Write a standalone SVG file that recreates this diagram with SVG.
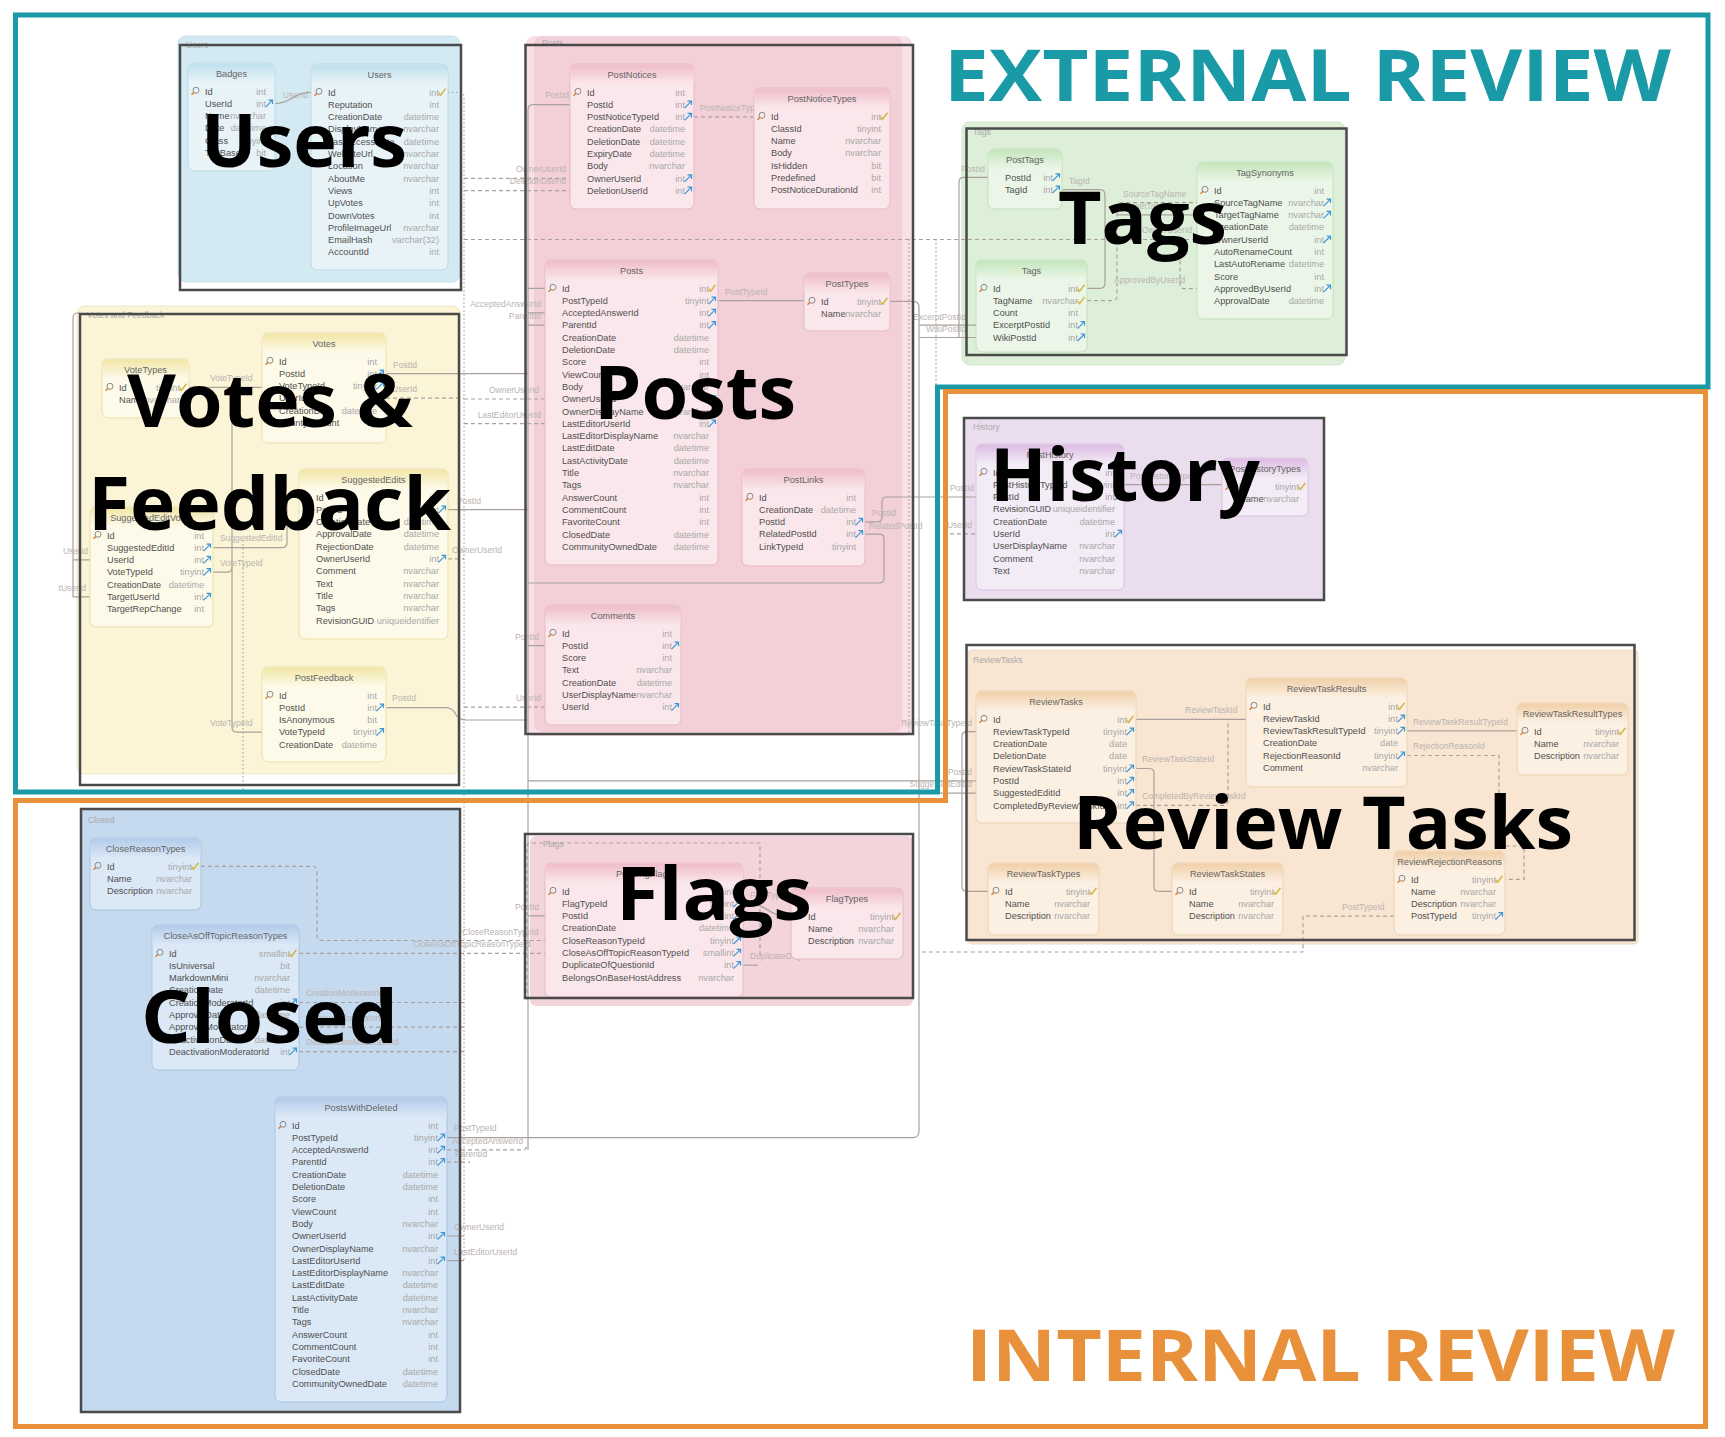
<svg xmlns="http://www.w3.org/2000/svg" width="1725" height="1437" viewBox="0 0 1725 1437">
<style>
.tn{font:9.2px "Liberation Sans",Arial,sans-serif;fill:#505050}
.tt{font:9.2px "Liberation Sans",Arial,sans-serif;fill:#a8a8a8;text-anchor:end}
.th{font:9.2px "Liberation Sans",Arial,sans-serif;fill:#666;text-anchor:middle}
.cl{font:8.5px "Liberation Sans",Arial,sans-serif;fill:#bab3b0}
.ce{font:8.5px "Liberation Sans",Arial,sans-serif;fill:#bab3b0;text-anchor:end}
.gl{font:8.5px "Liberation Sans",Arial,sans-serif;fill:#aaa}
.big{font-family:"Open Sans","Liberation Sans",sans-serif;font-weight:700;font-size:74px;fill:#000}
.rev{font-family:"Open Sans","Liberation Sans",sans-serif;font-weight:700;font-size:72px}
.c{fill:none;stroke:#aaa19c;stroke-width:1.2}
.d{stroke-dasharray:4 3}
.o{stroke-dasharray:1.5 2.5}
.box{fill:none;stroke:#4a4a4a;stroke-width:2.5}
.blu .tb{fill:#e8f3f8;stroke:#bcd9e5}.blu .thb{fill:url(#gBlu)}
.pnk .tb{fill:#fae7eb;stroke:#e6b9c4}.pnk .thb{fill:url(#gPnk)}
.grn .tb{fill:#ebf6e8;stroke:#c2e0ba}.grn .thb{fill:url(#gGrn)}
.yel .tb{fill:#fdfaea;stroke:#e9dfaa}.yel .thb{fill:url(#gYel)}
.pur .tb{fill:#f3ebf5;stroke:#d9c2df}.pur .thb{fill:url(#gPur)}
.org .tb{fill:#fcf0e3;stroke:#ead0af}.org .thb{fill:url(#gOrg)}
.cls .tb{fill:#dbe8f6;stroke:#aac4e3}.cls .thb{fill:url(#gCls)}
</style>
<defs>
<linearGradient id="gBlu" x1="0" y1="0" x2="0" y2="1"><stop offset="0" stop-color="#bfe0ec"/><stop offset="1" stop-color="#e8f3f8"/></linearGradient>
<linearGradient id="gPnk" x1="0" y1="0" x2="0" y2="1"><stop offset="0" stop-color="#efbcc8"/><stop offset="1" stop-color="#fae7eb"/></linearGradient>
<linearGradient id="gGrn" x1="0" y1="0" x2="0" y2="1"><stop offset="0" stop-color="#c4e6bb"/><stop offset="1" stop-color="#ebf6e8"/></linearGradient>
<linearGradient id="gYel" x1="0" y1="0" x2="0" y2="1"><stop offset="0" stop-color="#f1e6a6"/><stop offset="1" stop-color="#fdfaea"/></linearGradient>
<linearGradient id="gPur" x1="0" y1="0" x2="0" y2="1"><stop offset="0" stop-color="#dcbbe3"/><stop offset="1" stop-color="#f3ebf5"/></linearGradient>
<linearGradient id="gOrg" x1="0" y1="0" x2="0" y2="1"><stop offset="0" stop-color="#f0d0a8"/><stop offset="1" stop-color="#fcf0e3"/></linearGradient>
<linearGradient id="gCls" x1="0" y1="0" x2="0" y2="1"><stop offset="0" stop-color="#b2cbea"/><stop offset="1" stop-color="#dbe8f6"/></linearGradient>
<g id="key"><circle cx="1" cy="-1" r="3" fill="none" stroke="#8a8a8a" stroke-width="1"/><path d="M-1,1 L-3.5,3.5" stroke="#e07b2a" stroke-width="1.5"/></g>
<path id="chk" d="M-3.5,0.5 L-1.5,3 L3.5,-3.5" fill="none" stroke="#d8b43a" stroke-width="1.4"/>
<path id="fk" d="M-3.5,3.5 L3,-3 M-0.5,-3.5 H3.5 V0.5" fill="none" stroke="#3d96d6" stroke-width="1.2"/>
</defs>
<rect width="1725" height="1437" fill="#fff"/>

<!-- group backgrounds -->
<g id="group-fills">
<rect x="178" y="36" width="282" height="246" rx="8" fill="#d4eaf2" stroke="#c6e2eb"/>
<rect x="526" y="36" width="386" height="700" rx="8" fill="#f8e0e6"/>
<rect x="534" y="36" width="368" height="696" rx="8" fill="#f3d0d8"/>
<rect x="962" y="122" width="383" height="243" rx="8" fill="#ddefd9" stroke="#d0e7cb"/>
<rect x="77" y="306" width="383" height="468" rx="8" fill="#fbf4d7" stroke="#efe7c4"/>
<rect x="964" y="418" width="360" height="182" fill="#e9ddee"/>
<rect x="968" y="650" width="670" height="294" rx="4" fill="#f9e6d2" stroke="#eedac4"/>
<rect x="81" y="809" width="379" height="603" fill="#c5d9ef"/>
<rect x="530" y="836" width="383" height="170" rx="6" fill="#f4d4db"/>
<text class="gl" x="186" y="48">Users</text>
<text class="gl" x="542" y="46">Posts</text>
<text class="gl" x="973" y="135">Tags</text>
<text class="gl" x="87" y="318">Votes and Feedback</text>
<text class="gl" x="973" y="430">History</text>
<text class="gl" x="973" y="663">ReviewTasks</text>
<text class="gl" x="88" y="823">Closed</text>
<text class="gl" x="543" y="847">Flags</text>
</g>

<!-- connectors -->
<g id="connectors">
<path class="c" d="M275,103.6 C292,103.6 293,92.3 311,92.3"/>
<path class="c o" d="M448,92.3 H459 Q464,92.3 464,97 V1261"/>
<path class="c o" d="M909,239 V735"/>
<path class="c o" d="M936,239 V790"/>
<path class="c o" d="M243,540 V792"/>
<path class="c d" d="M464,178.4 H570 M464,190.7 H570"/>
<path class="c d" d="M464,239.5 H1197"/>
<path class="c d" d="M464,399 H545 M464,423.6 H545 M464,707.1 H545"/>
<path class="c" d="M570,104.6 H533 Q528,104.6 528,110 V1150"/>
<path class="c" d="M528,288.3 H545 M528,312.9 H545 M528,325.2 H545 M528,645.6 H545 M528,915.9 H545"/>
<path class="c" d="M386,373.6 H528 M448,509.6 H528"/>
<path class="c" d="M386,707.6 H445 Q452,707.6 455,713 Q458,720 466,720 H528"/>
<path class="c d" d="M694,116.9 H754"/>
<path class="c" d="M718,300.6 H804"/>
<path class="c" d="M890,301.3 H913 Q919,301.3 919,307 V1131 Q919,1137.6 913,1137.6 H447"/>
<path class="c" d="M865,534.2 H879 Q884,534.2 884,539 V578 Q884,583 879,583 H528"/>
<path class="c" d="M865,521.9 H877 Q882,521.9 882,517 V502 Q882,497 887,497 H976"/>
<path class="c" d="M919,325.2 H976 M919,337.5 H976"/>
<path class="c" d="M988,177.3 H964 Q959,177.3 959,182 V338"/>
<path class="c" d="M1062,189.6 H1100 Q1105,189.6 1105,195 V283 Q1105,288.3 1100,288.3 H1087"/>
<path class="c d" d="M1087,300.6 H1112 Q1117,300.6 1117,296 V207 Q1117,202.6 1122,202.6 H1197"/>
<path class="c" d="M1117,214.9 H1197"/>
<path class="c d" d="M1180,239.5 V284 Q1180,288.7 1185,288.7 H1197"/>
<path class="c" d="M1124,484.6 H1222"/>
<path class="c d" d="M936,533.8 H976"/>
<path class="c" d="M976,731.6 H967 Q962,731.6 962,736 V887 Q962,891.3 967,891.3 H988"/>
<path class="c" d="M528,780.8 H976"/>
<path class="c" d="M464,793.1 H976"/>
<path class="c" d="M1136,719.3 H1246"/>
<path class="c" d="M1136,768.5 H1149 Q1154,768.5 1154,773 V887 Q1154,891.3 1159,891.3 H1172"/>
<path class="c d" d="M1136,805.4 H1223 Q1228,805.4 1228,800 V719.3"/>
<path class="c" d="M1407,730.9 H1517"/>
<path class="c d" d="M1407,755.5 H1499 V846 H1524 V879.3 H1505"/>
<path class="c d" d="M1394,916.2 H1303 V952 H919"/>
<path class="c" d="M189,387.3 H262"/>
<path class="c" d="M232,387.3 V727 Q232,732.2 237,732.2 H262"/>
<path class="c" d="M213,572.2 H227 Q232,572.2 232,567"/>
<path class="c" d="M213,547.6 H282 Q287,547.6 287,542 V502 Q287,497.3 292,497.3 H299"/>
<path class="c d" d="M386,398.2 H464 M448,558.8 H464"/>
<path class="c" d="M80,313 H78 Q73,313 73,318 V597 M73,559.9 H90 M73,596.8 H90"/>
<path class="c d" d="M201,866.3 H312 Q317,866.3 317,871 V936 Q317,940.5 322,940.5 H545"/>
<path class="c d" d="M299,953.3 H545"/>
<path class="c d" d="M299,1002.5 H464 M299,1027.1 H464 M299,1051.7 H464"/>
<path class="c d" d="M447,1149.9 H522 Q527,1149.9 527,1145 M447,1162.2 H470"/>
<path class="c" d="M447,1236 H464 M447,1260.6 H464"/>
<path class="c" d="M743,903.6 C772,903.6 764,916.3 791,916.3"/>
<path class="c" d="M743,965.1 H758"/>
<path class="c d" d="M527,1000 V846 Q527,843 530,843 H760 V958"/>
<text class="cl" x="283" y="98">UserId</text>
<text class="ce" x="566" y="172">OwnerUserId</text>
<text class="ce" x="566" y="184">DeletionUserId</text>
<text class="ce" x="1192" y="233">OwnerUserId</text>
<text class="ce" x="541" y="307">AcceptedAnswerId</text>
<text class="ce" x="541" y="319">ParentId</text>
<text class="ce" x="539" y="393">OwnerUserId</text>
<text class="ce" x="541" y="418">LastEditorUserId</text>
<text class="ce" x="569" y="98">PostId</text>
<text class="ce" x="539" y="640">PostId</text>
<text class="ce" x="541" y="701">UserId</text>
<text class="ce" x="539" y="910">PostId</text>
<text class="cl" x="700" y="111">PostNoticeTypeId</text>
<text class="cl" x="725" y="295">PostTypeId</text>
<text class="cl" x="872" y="516">PostId</text>
<text class="cl" x="869" y="529">RelatedPostId</text>
<text class="ce" x="974" y="491">PostId</text>
<text class="ce" x="972" y="528">UserId</text>
<text class="cl" x="913" y="320">ExcerptPostId</text>
<text class="cl" x="926" y="332">WikiPostId</text>
<text class="ce" x="985" y="172">PostId</text>
<text class="cl" x="1069" y="184">TagId</text>
<text class="cl" x="1123" y="197">SourceTagName</text>
<text class="cl" x="1123" y="209">TargetTagName</text>
<text class="cl" x="1114" y="283">ApprovedByUserId</text>
<text class="cl" x="1130" y="479">PostHistoryTypeId</text>
<text class="ce" x="972" y="726">ReviewTaskTypeId</text>
<text class="ce" x="972" y="775">PostId</text>
<text class="ce" x="972" y="787">SuggestedEditId</text>
<text class="cl" x="1185" y="713">ReviewTaskId</text>
<text class="cl" x="1142" y="762">ReviewTaskStateId</text>
<text class="cl" x="1142" y="799">CompletedByReviewTaskId</text>
<text class="cl" x="1413" y="725">ReviewTaskResultTypeId</text>
<text class="cl" x="1413" y="749">RejectionReasonId</text>
<text class="cl" x="1342" y="910">PostTypeId</text>
<text class="cl" x="210" y="381">VoteTypeId</text>
<text class="cl" x="220" y="566">VoteTypeId</text>
<text class="cl" x="210" y="726">VoteTypeId</text>
<text class="cl" x="220" y="541">SuggestedEditId</text>
<text class="cl" x="393" y="368">PostId</text>
<text class="cl" x="392" y="392">UserId</text>
<text class="cl" x="457" y="504">PostId</text>
<text class="cl" x="452" y="553">OwnerUserId</text>
<text class="cl" x="392" y="701">PostId</text>
<text class="ce" x="88" y="554">UserId</text>
<text class="ce" x="86" y="591">tUserId</text>
<text class="cl" x="462" y="935">CloseReasonTypeId</text>
<text class="cl" x="413" y="947">CloseAsOffTopicReasonTypeId</text>
<text class="cl" x="306" y="996">CreationModeratorId</text>
<text class="cl" x="306" y="1021">ApprovalModeratorId</text>
<text class="cl" x="306" y="1045">DeactivationModeratorId</text>
<text class="cl" x="454" y="1131">PostTypeId</text>
<text class="cl" x="452" y="1144">AcceptedAnswerId</text>
<text class="cl" x="455" y="1157">ParentId</text>
<text class="cl" x="454" y="1230">OwnerUserId</text>
<text class="cl" x="454" y="1255">LastEditorUserId</text>
<text class="cl" x="750" y="898">FlagTypeId</text>
<text class="cl" x="750" y="959">DuplicateOfQuestionId</text>
</g>

<!-- tables -->
<g id="t-badges" class="blu">
<rect class="tb" x="188" y="63" width="87" height="108" rx="6"/>
<path class="thb" d="M188.5,83V69q0-5.5 5.5-5.5h75q5.5,0 5.5,5.5v14z"/>
<text class="th" x="231.5" y="76.5">Badges</text>
<text class="tn" y="94.5"><tspan x="205">Id</tspan><tspan x="205" dy="12.3">UserId</tspan><tspan x="205" dy="12.3">Name</tspan><tspan x="205" dy="12.3">Date</tspan><tspan x="205" dy="12.3">Class</tspan><tspan x="205" dy="12.3">TagBased</tspan></text>
<text class="tt" y="94.5"><tspan x="266">int</tspan><tspan x="266" dy="12.3">int</tspan><tspan x="266" dy="12.3">nvarchar</tspan><tspan x="266" dy="12.3">datetime</tspan><tspan x="266" dy="12.3">tinyint</tspan><tspan x="266" dy="12.3">bit</tspan></text>
<use href="#key" x="195" y="91.3"/><use href="#fk" x="269" y="103.6"/>
</g>
<g id="t-users" class="blu">
<rect class="tb" x="311" y="64" width="137" height="206" rx="6"/>
<path class="thb" d="M311.5,84V70q0-5.5 5.5-5.5h125q5.5,0 5.5,5.5v14z"/>
<text class="th" x="379.5" y="77.5">Users</text>
<text class="tn" y="95.5"><tspan x="328">Id</tspan><tspan x="328" dy="12.3">Reputation</tspan><tspan x="328" dy="12.3">CreationDate</tspan><tspan x="328" dy="12.3">DisplayName</tspan><tspan x="328" dy="12.3">LastAccessDate</tspan><tspan x="328" dy="12.3">WebsiteUrl</tspan><tspan x="328" dy="12.3">Location</tspan><tspan x="328" dy="12.3">AboutMe</tspan><tspan x="328" dy="12.3">Views</tspan><tspan x="328" dy="12.3">UpVotes</tspan><tspan x="328" dy="12.3">DownVotes</tspan><tspan x="328" dy="12.3">ProfileImageUrl</tspan><tspan x="328" dy="12.3">EmailHash</tspan><tspan x="328" dy="12.3">AccountId</tspan></text>
<text class="tt" y="95.5"><tspan x="439">int</tspan><tspan x="439" dy="12.3">int</tspan><tspan x="439" dy="12.3">datetime</tspan><tspan x="439" dy="12.3">nvarchar</tspan><tspan x="439" dy="12.3">datetime</tspan><tspan x="439" dy="12.3">nvarchar</tspan><tspan x="439" dy="12.3">nvarchar</tspan><tspan x="439" dy="12.3">nvarchar</tspan><tspan x="439" dy="12.3">int</tspan><tspan x="439" dy="12.3">int</tspan><tspan x="439" dy="12.3">int</tspan><tspan x="439" dy="12.3">nvarchar</tspan><tspan x="439" dy="12.3">varchar(32)</tspan><tspan x="439" dy="12.3">int</tspan></text>
<use href="#key" x="318" y="92.3"/><use href="#chk" x="442" y="92.3"/>
</g>
<g id="t-postnotices" class="pnk">
<rect class="tb" x="570" y="64" width="124" height="145" rx="6"/>
<path class="thb" d="M570.5,84V70q0-5.5 5.5-5.5h112q5.5,0 5.5,5.5v14z"/>
<text class="th" x="632" y="77.5">PostNotices</text>
<text class="tn" y="95.5"><tspan x="587">Id</tspan><tspan x="587" dy="12.3">PostId</tspan><tspan x="587" dy="12.3">PostNoticeTypeId</tspan><tspan x="587" dy="12.3">CreationDate</tspan><tspan x="587" dy="12.3">DeletionDate</tspan><tspan x="587" dy="12.3">ExpiryDate</tspan><tspan x="587" dy="12.3">Body</tspan><tspan x="587" dy="12.3">OwnerUserId</tspan><tspan x="587" dy="12.3">DeletionUserId</tspan></text>
<text class="tt" y="95.5"><tspan x="685">int</tspan><tspan x="685" dy="12.3">int</tspan><tspan x="685" dy="12.3">int</tspan><tspan x="685" dy="12.3">datetime</tspan><tspan x="685" dy="12.3">datetime</tspan><tspan x="685" dy="12.3">datetime</tspan><tspan x="685" dy="12.3">nvarchar</tspan><tspan x="685" dy="12.3">int</tspan><tspan x="685" dy="12.3">int</tspan></text>
<use href="#key" x="577" y="92.3"/><use href="#fk" x="688" y="104.6"/><use href="#fk" x="688" y="116.9"/><use href="#fk" x="688" y="178.4"/><use href="#fk" x="688" y="190.7"/>
</g>
<g id="t-postnoticetypes" class="pnk">
<rect class="tb" x="754" y="88" width="136" height="121" rx="6"/>
<path class="thb" d="M754.5,108V94q0-5.5 5.5-5.5h124q5.5,0 5.5,5.5v14z"/>
<text class="th" x="822" y="101.5">PostNoticeTypes</text>
<text class="tn" y="119.5"><tspan x="771">Id</tspan><tspan x="771" dy="12.3">ClassId</tspan><tspan x="771" dy="12.3">Name</tspan><tspan x="771" dy="12.3">Body</tspan><tspan x="771" dy="12.3">IsHidden</tspan><tspan x="771" dy="12.3">Predefined</tspan><tspan x="771" dy="12.3">PostNoticeDurationId</tspan></text>
<text class="tt" y="119.5"><tspan x="881">int</tspan><tspan x="881" dy="12.3">tinyint</tspan><tspan x="881" dy="12.3">nvarchar</tspan><tspan x="881" dy="12.3">nvarchar</tspan><tspan x="881" dy="12.3">bit</tspan><tspan x="881" dy="12.3">bit</tspan><tspan x="881" dy="12.3">int</tspan></text>
<use href="#key" x="761" y="116.3"/><use href="#chk" x="884" y="116.3"/>
</g>
<g id="t-posts" class="pnk">
<rect class="tb" x="545" y="260" width="173" height="305" rx="6"/>
<path class="thb" d="M545.5,280V266q0-5.5 5.5-5.5h161q5.5,0 5.5,5.5v14z"/>
<text class="th" x="631.5" y="273.5">Posts</text>
<text class="tn" y="291.5"><tspan x="562">Id</tspan><tspan x="562" dy="12.3">PostTypeId</tspan><tspan x="562" dy="12.3">AcceptedAnswerId</tspan><tspan x="562" dy="12.3">ParentId</tspan><tspan x="562" dy="12.3">CreationDate</tspan><tspan x="562" dy="12.3">DeletionDate</tspan><tspan x="562" dy="12.3">Score</tspan><tspan x="562" dy="12.3">ViewCount</tspan><tspan x="562" dy="12.3">Body</tspan><tspan x="562" dy="12.3">OwnerUserId</tspan><tspan x="562" dy="12.3">OwnerDisplayName</tspan><tspan x="562" dy="12.3">LastEditorUserId</tspan><tspan x="562" dy="12.3">LastEditorDisplayName</tspan><tspan x="562" dy="12.3">LastEditDate</tspan><tspan x="562" dy="12.3">LastActivityDate</tspan><tspan x="562" dy="12.3">Title</tspan><tspan x="562" dy="12.3">Tags</tspan><tspan x="562" dy="12.3">AnswerCount</tspan><tspan x="562" dy="12.3">CommentCount</tspan><tspan x="562" dy="12.3">FavoriteCount</tspan><tspan x="562" dy="12.3">ClosedDate</tspan><tspan x="562" dy="12.3">CommunityOwnedDate</tspan></text>
<text class="tt" y="291.5"><tspan x="709">int</tspan><tspan x="709" dy="12.3">tinyint</tspan><tspan x="709" dy="12.3">int</tspan><tspan x="709" dy="12.3">int</tspan><tspan x="709" dy="12.3">datetime</tspan><tspan x="709" dy="12.3">datetime</tspan><tspan x="709" dy="12.3">int</tspan><tspan x="709" dy="12.3">int</tspan><tspan x="709" dy="12.3">nvarchar</tspan><tspan x="709" dy="12.3">int</tspan><tspan x="709" dy="12.3">nvarchar</tspan><tspan x="709" dy="12.3">int</tspan><tspan x="709" dy="12.3">nvarchar</tspan><tspan x="709" dy="12.3">datetime</tspan><tspan x="709" dy="12.3">datetime</tspan><tspan x="709" dy="12.3">nvarchar</tspan><tspan x="709" dy="12.3">nvarchar</tspan><tspan x="709" dy="12.3">int</tspan><tspan x="709" dy="12.3">int</tspan><tspan x="709" dy="12.3">int</tspan><tspan x="709" dy="12.3">datetime</tspan><tspan x="709" dy="12.3">datetime</tspan></text>
<use href="#key" x="552" y="288.3"/><use href="#chk" x="712" y="288.3"/><use href="#fk" x="712" y="300.6"/><use href="#fk" x="712" y="312.9"/><use href="#fk" x="712" y="325.2"/><use href="#fk" x="712" y="399"/><use href="#fk" x="712" y="423.6"/>
</g>
<g id="t-posttypes" class="pnk">
<rect class="tb" x="804" y="273" width="86" height="58" rx="6"/>
<path class="thb" d="M804.5,293V279q0-5.5 5.5-5.5h74q5.5,0 5.5,5.5v14z"/>
<text class="th" x="847" y="286.5">PostTypes</text>
<text class="tn" y="304.5"><tspan x="821">Id</tspan><tspan x="821" dy="12.3">Name</tspan></text>
<text class="tt" y="304.5"><tspan x="881">tinyint</tspan><tspan x="881" dy="12.3">nvarchar</tspan></text>
<use href="#key" x="811" y="301.3"/><use href="#chk" x="884" y="301.3"/>
</g>
<g id="t-postlinks" class="pnk">
<rect class="tb" x="742" y="469" width="123" height="97" rx="6"/>
<path class="thb" d="M742.5,489V475q0-5.5 5.5-5.5h111q5.5,0 5.5,5.5v14z"/>
<text class="th" x="803.5" y="482.5">PostLinks</text>
<text class="tn" y="500.5"><tspan x="759">Id</tspan><tspan x="759" dy="12.3">CreationDate</tspan><tspan x="759" dy="12.3">PostId</tspan><tspan x="759" dy="12.3">RelatedPostId</tspan><tspan x="759" dy="12.3">LinkTypeId</tspan></text>
<text class="tt" y="500.5"><tspan x="856">int</tspan><tspan x="856" dy="12.3">datetime</tspan><tspan x="856" dy="12.3">int</tspan><tspan x="856" dy="12.3">int</tspan><tspan x="856" dy="12.3">tinyint</tspan></text>
<use href="#key" x="749" y="497.3"/><use href="#fk" x="859" y="521.9"/><use href="#fk" x="859" y="534.2"/>
</g>
<g id="t-comments" class="pnk">
<rect class="tb" x="545" y="605" width="136" height="120" rx="6"/>
<path class="thb" d="M545.5,625V611q0-5.5 5.5-5.5h124q5.5,0 5.5,5.5v14z"/>
<text class="th" x="613" y="618.5">Comments</text>
<text class="tn" y="636.5"><tspan x="562">Id</tspan><tspan x="562" dy="12.3">PostId</tspan><tspan x="562" dy="12.3">Score</tspan><tspan x="562" dy="12.3">Text</tspan><tspan x="562" dy="12.3">CreationDate</tspan><tspan x="562" dy="12.3">UserDisplayName</tspan><tspan x="562" dy="12.3">UserId</tspan></text>
<text class="tt" y="636.5"><tspan x="672">int</tspan><tspan x="672" dy="12.3">int</tspan><tspan x="672" dy="12.3">int</tspan><tspan x="672" dy="12.3">nvarchar</tspan><tspan x="672" dy="12.3">datetime</tspan><tspan x="672" dy="12.3">nvarchar</tspan><tspan x="672" dy="12.3">int</tspan></text>
<use href="#key" x="552" y="633.3"/><use href="#fk" x="675" y="645.6"/><use href="#fk" x="675" y="707.1"/>
</g>
<g id="t-posttags" class="grn">
<rect class="tb" x="988" y="149" width="74" height="60" rx="6"/>
<path class="thb" d="M988.5,169V155q0-5.5 5.5-5.5h62q5.5,0 5.5,5.5v14z"/>
<text class="th" x="1025" y="162.5">PostTags</text>
<text class="tn" y="180.5"><tspan x="1005">PostId</tspan><tspan x="1005" dy="12.3">TagId</tspan></text>
<text class="tt" y="180.5"><tspan x="1053">int</tspan><tspan x="1053" dy="12.3">int</tspan></text>
<use href="#fk" x="1056" y="177.3"/><use href="#fk" x="1056" y="189.6"/>
</g>
<g id="t-tagsynonyms" class="grn">
<rect class="tb" x="1197" y="162" width="136" height="157" rx="6"/>
<path class="thb" d="M1197.5,182V168q0-5.5 5.5-5.5h124q5.5,0 5.5,5.5v14z"/>
<text class="th" x="1265" y="175.5">TagSynonyms</text>
<text class="tn" y="193.5"><tspan x="1214">Id</tspan><tspan x="1214" dy="12.3">SourceTagName</tspan><tspan x="1214" dy="12.3">TargetTagName</tspan><tspan x="1214" dy="12.3">CreationDate</tspan><tspan x="1214" dy="12.3">OwnerUserId</tspan><tspan x="1214" dy="12.3">AutoRenameCount</tspan><tspan x="1214" dy="12.3">LastAutoRename</tspan><tspan x="1214" dy="12.3">Score</tspan><tspan x="1214" dy="12.3">ApprovedByUserId</tspan><tspan x="1214" dy="12.3">ApprovalDate</tspan></text>
<text class="tt" y="193.5"><tspan x="1324">int</tspan><tspan x="1324" dy="12.3">nvarchar</tspan><tspan x="1324" dy="12.3">nvarchar</tspan><tspan x="1324" dy="12.3">datetime</tspan><tspan x="1324" dy="12.3">int</tspan><tspan x="1324" dy="12.3">int</tspan><tspan x="1324" dy="12.3">datetime</tspan><tspan x="1324" dy="12.3">int</tspan><tspan x="1324" dy="12.3">int</tspan><tspan x="1324" dy="12.3">datetime</tspan></text>
<use href="#key" x="1204" y="190.3"/><use href="#fk" x="1327" y="202.6"/><use href="#fk" x="1327" y="214.9"/><use href="#fk" x="1327" y="239.5"/><use href="#fk" x="1327" y="288.7"/>
</g>
<g id="t-tags" class="grn">
<rect class="tb" x="976" y="260" width="111" height="92" rx="6"/>
<path class="thb" d="M976.5,280V266q0-5.5 5.5-5.5h99q5.5,0 5.5,5.5v14z"/>
<text class="th" x="1031.5" y="273.5">Tags</text>
<text class="tn" y="291.5"><tspan x="993">Id</tspan><tspan x="993" dy="12.3">TagName</tspan><tspan x="993" dy="12.3">Count</tspan><tspan x="993" dy="12.3">ExcerptPostId</tspan><tspan x="993" dy="12.3">WikiPostId</tspan></text>
<text class="tt" y="291.5"><tspan x="1078">int</tspan><tspan x="1078" dy="12.3">nvarchar</tspan><tspan x="1078" dy="12.3">int</tspan><tspan x="1078" dy="12.3">int</tspan><tspan x="1078" dy="12.3">int</tspan></text>
<use href="#key" x="983" y="288.3"/><use href="#chk" x="1081" y="288.3"/><use href="#chk" x="1081" y="300.6"/><use href="#fk" x="1081" y="325.2"/><use href="#fk" x="1081" y="337.5"/>
</g>
<g id="t-votetypes" class="yel">
<rect class="tb" x="102" y="359" width="87" height="59" rx="6"/>
<path class="thb" d="M102.5,379V365q0-5.5 5.5-5.5h75q5.5,0 5.5,5.5v14z"/>
<text class="th" x="145.5" y="372.5">VoteTypes</text>
<text class="tn" y="390.5"><tspan x="119">Id</tspan><tspan x="119" dy="12.3">Name</tspan></text>
<text class="tt" y="390.5"><tspan x="180">tinyint</tspan><tspan x="180" dy="12.3">nvarchar</tspan></text>
<use href="#key" x="109" y="387.3"/><use href="#chk" x="183" y="387.3"/>
</g>
<g id="t-votes" class="yel">
<rect class="tb" x="262" y="333" width="124" height="110" rx="6"/>
<path class="thb" d="M262.5,353V339q0-5.5 5.5-5.5h112q5.5,0 5.5,5.5v14z"/>
<text class="th" x="324" y="346.5">Votes</text>
<text class="tn" y="364.5"><tspan x="279">Id</tspan><tspan x="279" dy="12.3">PostId</tspan><tspan x="279" dy="12.3">VoteTypeId</tspan><tspan x="279" dy="12.3">UserId</tspan><tspan x="279" dy="12.3">CreationDate</tspan><tspan x="279" dy="12.3">BountyAmount</tspan></text>
<text class="tt" y="364.5"><tspan x="377">int</tspan><tspan x="377" dy="12.3">int</tspan><tspan x="377" dy="12.3">tinyint</tspan><tspan x="377" dy="12.3">int</tspan><tspan x="377" dy="12.3">datetime</tspan><tspan x="377" dy="12.3">int</tspan></text>
<use href="#key" x="269" y="361.3"/><use href="#fk" x="380" y="373.6"/><use href="#fk" x="380" y="385.9"/><use href="#fk" x="380" y="398.2"/>
</g>
<g id="t-suggestededits" class="yel">
<rect class="tb" x="299" y="469" width="149" height="170" rx="6"/>
<path class="thb" d="M299.5,489V475q0-5.5 5.5-5.5h137q5.5,0 5.5,5.5v14z"/>
<text class="th" x="373.5" y="482.5">SuggestedEdits</text>
<text class="tn" y="500.5"><tspan x="316">Id</tspan><tspan x="316" dy="12.3">PostId</tspan><tspan x="316" dy="12.3">CreationDate</tspan><tspan x="316" dy="12.3">ApprovalDate</tspan><tspan x="316" dy="12.3">RejectionDate</tspan><tspan x="316" dy="12.3">OwnerUserId</tspan><tspan x="316" dy="12.3">Comment</tspan><tspan x="316" dy="12.3">Text</tspan><tspan x="316" dy="12.3">Title</tspan><tspan x="316" dy="12.3">Tags</tspan><tspan x="316" dy="12.3">RevisionGUID</tspan></text>
<text class="tt" y="500.5"><tspan x="439">int</tspan><tspan x="439" dy="12.3">int</tspan><tspan x="439" dy="12.3">datetime</tspan><tspan x="439" dy="12.3">datetime</tspan><tspan x="439" dy="12.3">datetime</tspan><tspan x="439" dy="12.3">int</tspan><tspan x="439" dy="12.3">nvarchar</tspan><tspan x="439" dy="12.3">nvarchar</tspan><tspan x="439" dy="12.3">nvarchar</tspan><tspan x="439" dy="12.3">nvarchar</tspan><tspan x="439" dy="12.3">uniqueidentifier</tspan></text>
<use href="#key" x="306" y="497.3"/><use href="#fk" x="442" y="509.6"/><use href="#fk" x="442" y="558.8"/>
</g>
<g id="t-suggestededitvotes" class="yel">
<rect class="tb" x="90" y="507" width="123" height="120" rx="6"/>
<path class="thb" d="M90.5,527V513q0-5.5 5.5-5.5h111q5.5,0 5.5,5.5v14z"/>
<text class="th" x="151.5" y="520.5">SuggestedEditVotes</text>
<text class="tn" y="538.5"><tspan x="107">Id</tspan><tspan x="107" dy="12.3">SuggestedEditId</tspan><tspan x="107" dy="12.3">UserId</tspan><tspan x="107" dy="12.3">VoteTypeId</tspan><tspan x="107" dy="12.3">CreationDate</tspan><tspan x="107" dy="12.3">TargetUserId</tspan><tspan x="107" dy="12.3">TargetRepChange</tspan></text>
<text class="tt" y="538.5"><tspan x="204">int</tspan><tspan x="204" dy="12.3">int</tspan><tspan x="204" dy="12.3">int</tspan><tspan x="204" dy="12.3">tinyint</tspan><tspan x="204" dy="12.3">datetime</tspan><tspan x="204" dy="12.3">int</tspan><tspan x="204" dy="12.3">int</tspan></text>
<use href="#key" x="97" y="535.3"/><use href="#fk" x="207" y="547.6"/><use href="#fk" x="207" y="559.9"/><use href="#fk" x="207" y="572.2"/><use href="#fk" x="207" y="596.8"/>
</g>
<g id="t-postfeedback" class="yel">
<rect class="tb" x="262" y="667" width="124" height="95" rx="6"/>
<path class="thb" d="M262.5,687V673q0-5.5 5.5-5.5h112q5.5,0 5.5,5.5v14z"/>
<text class="th" x="324" y="680.5">PostFeedback</text>
<text class="tn" y="698.5"><tspan x="279">Id</tspan><tspan x="279" dy="12.3">PostId</tspan><tspan x="279" dy="12.3">IsAnonymous</tspan><tspan x="279" dy="12.3">VoteTypeId</tspan><tspan x="279" dy="12.3">CreationDate</tspan></text>
<text class="tt" y="698.5"><tspan x="377">int</tspan><tspan x="377" dy="12.3">int</tspan><tspan x="377" dy="12.3">bit</tspan><tspan x="377" dy="12.3">tinyint</tspan><tspan x="377" dy="12.3">datetime</tspan></text>
<use href="#key" x="269" y="695.3"/><use href="#fk" x="380" y="707.6"/><use href="#fk" x="380" y="732.2"/>
</g>
<g id="t-posthistory" class="pur">
<rect class="tb" x="976" y="444" width="148" height="146" rx="6"/>
<path class="thb" d="M976.5,464V450q0-5.5 5.5-5.5h136q5.5,0 5.5,5.5v14z"/>
<text class="th" x="1050" y="457.5">PostHistory</text>
<text class="tn" y="475.5"><tspan x="993">Id</tspan><tspan x="993" dy="12.3">PostHistoryTypeId</tspan><tspan x="993" dy="12.3">PostId</tspan><tspan x="993" dy="12.3">RevisionGUID</tspan><tspan x="993" dy="12.3">CreationDate</tspan><tspan x="993" dy="12.3">UserId</tspan><tspan x="993" dy="12.3">UserDisplayName</tspan><tspan x="993" dy="12.3">Comment</tspan><tspan x="993" dy="12.3">Text</tspan></text>
<text class="tt" y="475.5"><tspan x="1115">int</tspan><tspan x="1115" dy="12.3">tinyint</tspan><tspan x="1115" dy="12.3">int</tspan><tspan x="1115" dy="12.3">uniqueidentifier</tspan><tspan x="1115" dy="12.3">datetime</tspan><tspan x="1115" dy="12.3">int</tspan><tspan x="1115" dy="12.3">nvarchar</tspan><tspan x="1115" dy="12.3">nvarchar</tspan><tspan x="1115" dy="12.3">nvarchar</tspan></text>
<use href="#key" x="983" y="472.3"/><use href="#fk" x="1118" y="484.6"/><use href="#fk" x="1118" y="496.9"/><use href="#fk" x="1118" y="533.8"/>
</g>
<g id="t-posthistorytypes" class="pur">
<rect class="tb" x="1222" y="458" width="86" height="58" rx="6"/>
<path class="thb" d="M1222.5,478V464q0-5.5 5.5-5.5h74q5.5,0 5.5,5.5v14z"/>
<text class="th" x="1265" y="471.5">PostHistoryTypes</text>
<text class="tn" y="489.5"><tspan x="1239">Id</tspan><tspan x="1239" dy="12.3">Name</tspan></text>
<text class="tt" y="489.5"><tspan x="1299">tinyint</tspan><tspan x="1299" dy="12.3">nvarchar</tspan></text>
<use href="#key" x="1229" y="486.3"/><use href="#chk" x="1302" y="486.3"/>
</g>
<g id="t-reviewtasks" class="org">
<rect class="tb" x="976" y="691" width="160" height="132" rx="6"/>
<path class="thb" d="M976.5,711V697q0-5.5 5.5-5.5h148q5.5,0 5.5,5.5v14z"/>
<text class="th" x="1056" y="704.5">ReviewTasks</text>
<text class="tn" y="722.5"><tspan x="993">Id</tspan><tspan x="993" dy="12.3">ReviewTaskTypeId</tspan><tspan x="993" dy="12.3">CreationDate</tspan><tspan x="993" dy="12.3">DeletionDate</tspan><tspan x="993" dy="12.3">ReviewTaskStateId</tspan><tspan x="993" dy="12.3">PostId</tspan><tspan x="993" dy="12.3">SuggestedEditId</tspan><tspan x="993" dy="12.3">CompletedByReviewTaskId</tspan></text>
<text class="tt" y="722.5"><tspan x="1127">int</tspan><tspan x="1127" dy="12.3">tinyint</tspan><tspan x="1127" dy="12.3">date</tspan><tspan x="1127" dy="12.3">date</tspan><tspan x="1127" dy="12.3">tinyint</tspan><tspan x="1127" dy="12.3">int</tspan><tspan x="1127" dy="12.3">int</tspan><tspan x="1127" dy="12.3">int</tspan></text>
<use href="#key" x="983" y="719.3"/><use href="#chk" x="1130" y="719.3"/><use href="#fk" x="1130" y="731.6"/><use href="#fk" x="1130" y="768.5"/><use href="#fk" x="1130" y="780.8"/><use href="#fk" x="1130" y="793.1"/><use href="#fk" x="1130" y="805.4"/>
</g>
<g id="t-reviewtaskresults" class="org">
<rect class="tb" x="1246" y="678" width="161" height="109" rx="6"/>
<path class="thb" d="M1246.5,698V684q0-5.5 5.5-5.5h149q5.5,0 5.5,5.5v14z"/>
<text class="th" x="1326.5" y="691.5">ReviewTaskResults</text>
<text class="tn" y="709.5"><tspan x="1263">Id</tspan><tspan x="1263" dy="12.3">ReviewTaskId</tspan><tspan x="1263" dy="12.3">ReviewTaskResultTypeId</tspan><tspan x="1263" dy="12.3">CreationDate</tspan><tspan x="1263" dy="12.3">RejectionReasonId</tspan><tspan x="1263" dy="12.3">Comment</tspan></text>
<text class="tt" y="709.5"><tspan x="1398">int</tspan><tspan x="1398" dy="12.3">int</tspan><tspan x="1398" dy="12.3">tinyint</tspan><tspan x="1398" dy="12.3">date</tspan><tspan x="1398" dy="12.3">tinyint</tspan><tspan x="1398" dy="12.3">nvarchar</tspan></text>
<use href="#key" x="1253" y="706.3"/><use href="#chk" x="1401" y="706.3"/><use href="#fk" x="1401" y="718.6"/><use href="#fk" x="1401" y="730.9"/><use href="#fk" x="1401" y="755.5"/>
</g>
<g id="t-reviewtaskresulttypes" class="org">
<rect class="tb" x="1517" y="703" width="111" height="72" rx="6"/>
<path class="thb" d="M1517.5,723V709q0-5.5 5.5-5.5h99q5.5,0 5.5,5.5v14z"/>
<text class="th" x="1572.5" y="716.5">ReviewTaskResultTypes</text>
<text class="tn" y="734.5"><tspan x="1534">Id</tspan><tspan x="1534" dy="12.3">Name</tspan><tspan x="1534" dy="12.3">Description</tspan></text>
<text class="tt" y="734.5"><tspan x="1619">tinyint</tspan><tspan x="1619" dy="12.3">nvarchar</tspan><tspan x="1619" dy="12.3">nvarchar</tspan></text>
<use href="#key" x="1524" y="731.3"/><use href="#chk" x="1622" y="731.3"/>
</g>
<g id="t-reviewtasktypes" class="org">
<rect class="tb" x="988" y="863" width="111" height="72" rx="6"/>
<path class="thb" d="M988.5,883V869q0-5.5 5.5-5.5h99q5.5,0 5.5,5.5v14z"/>
<text class="th" x="1043.5" y="876.5">ReviewTaskTypes</text>
<text class="tn" y="894.5"><tspan x="1005">Id</tspan><tspan x="1005" dy="12.3">Name</tspan><tspan x="1005" dy="12.3">Description</tspan></text>
<text class="tt" y="894.5"><tspan x="1090">tinyint</tspan><tspan x="1090" dy="12.3">nvarchar</tspan><tspan x="1090" dy="12.3">nvarchar</tspan></text>
<use href="#key" x="995" y="891.3"/><use href="#chk" x="1093" y="891.3"/>
</g>
<g id="t-reviewtaskstates" class="org">
<rect class="tb" x="1172" y="863" width="111" height="72" rx="6"/>
<path class="thb" d="M1172.5,883V869q0-5.5 5.5-5.5h99q5.5,0 5.5,5.5v14z"/>
<text class="th" x="1227.5" y="876.5">ReviewTaskStates</text>
<text class="tn" y="894.5"><tspan x="1189">Id</tspan><tspan x="1189" dy="12.3">Name</tspan><tspan x="1189" dy="12.3">Description</tspan></text>
<text class="tt" y="894.5"><tspan x="1274">tinyint</tspan><tspan x="1274" dy="12.3">nvarchar</tspan><tspan x="1274" dy="12.3">nvarchar</tspan></text>
<use href="#key" x="1179" y="891.3"/><use href="#chk" x="1277" y="891.3"/>
</g>
<g id="t-reviewrejectionreasons" class="org">
<rect class="tb" x="1394" y="851" width="111" height="84" rx="6"/>
<path class="thb" d="M1394.5,871V857q0-5.5 5.5-5.5h99q5.5,0 5.5,5.5v14z"/>
<text class="th" x="1449.5" y="864.5">ReviewRejectionReasons</text>
<text class="tn" y="882.5"><tspan x="1411">Id</tspan><tspan x="1411" dy="12.3">Name</tspan><tspan x="1411" dy="12.3">Description</tspan><tspan x="1411" dy="12.3">PostTypeId</tspan></text>
<text class="tt" y="882.5"><tspan x="1496">tinyint</tspan><tspan x="1496" dy="12.3">nvarchar</tspan><tspan x="1496" dy="12.3">nvarchar</tspan><tspan x="1496" dy="12.3">tinyint</tspan></text>
<use href="#key" x="1401" y="879.3"/><use href="#chk" x="1499" y="879.3"/><use href="#fk" x="1499" y="916.2"/>
</g>
<g id="t-closereasontypes" class="cls">
<rect class="tb" x="90" y="838" width="111" height="72" rx="6"/>
<path class="thb" d="M90.5,858V844q0-5.5 5.5-5.5h99q5.5,0 5.5,5.5v14z"/>
<text class="th" x="145.5" y="851.5">CloseReasonTypes</text>
<text class="tn" y="869.5"><tspan x="107">Id</tspan><tspan x="107" dy="12.3">Name</tspan><tspan x="107" dy="12.3">Description</tspan></text>
<text class="tt" y="869.5"><tspan x="192">tinyint</tspan><tspan x="192" dy="12.3">nvarchar</tspan><tspan x="192" dy="12.3">nvarchar</tspan></text>
<use href="#key" x="97" y="866.3"/><use href="#chk" x="195" y="866.3"/>
</g>
<g id="t-closeasofftopicreasontypes" class="cls">
<rect class="tb" x="152" y="925" width="147" height="145" rx="6"/>
<path class="thb" d="M152.5,945V931q0-5.5 5.5-5.5h135q5.5,0 5.5,5.5v14z"/>
<text class="th" x="225.5" y="938.5">CloseAsOffTopicReasonTypes</text>
<text class="tn" y="956.5"><tspan x="169">Id</tspan><tspan x="169" dy="12.3">IsUniversal</tspan><tspan x="169" dy="12.3">MarkdownMini</tspan><tspan x="169" dy="12.3">CreationDate</tspan><tspan x="169" dy="12.3">CreationModeratorId</tspan><tspan x="169" dy="12.3">ApprovalDate</tspan><tspan x="169" dy="12.3">ApprovalModeratorId</tspan><tspan x="169" dy="12.3">DeactivationDate</tspan><tspan x="169" dy="12.3">DeactivationModeratorId</tspan></text>
<text class="tt" y="956.5"><tspan x="290">smallint</tspan><tspan x="290" dy="12.3">bit</tspan><tspan x="290" dy="12.3">nvarchar</tspan><tspan x="290" dy="12.3">datetime</tspan><tspan x="290" dy="12.3">int</tspan><tspan x="290" dy="12.3">datetime</tspan><tspan x="290" dy="12.3">int</tspan><tspan x="290" dy="12.3">datetime</tspan><tspan x="290" dy="12.3">int</tspan></text>
<use href="#key" x="159" y="953.3"/><use href="#chk" x="293" y="953.3"/><use href="#fk" x="293" y="1002.5"/><use href="#fk" x="293" y="1027.1"/><use href="#fk" x="293" y="1051.7"/>
</g>
<g id="t-postswithdeleted" class="cls">
<rect class="tb" x="275" y="1097" width="172" height="305" rx="6"/>
<path class="thb" d="M275.5,1117V1103q0-5.5 5.5-5.5h160q5.5,0 5.5,5.5v14z"/>
<text class="th" x="361" y="1110.5">PostsWithDeleted</text>
<text class="tn" y="1128.5"><tspan x="292">Id</tspan><tspan x="292" dy="12.3">PostTypeId</tspan><tspan x="292" dy="12.3">AcceptedAnswerId</tspan><tspan x="292" dy="12.3">ParentId</tspan><tspan x="292" dy="12.3">CreationDate</tspan><tspan x="292" dy="12.3">DeletionDate</tspan><tspan x="292" dy="12.3">Score</tspan><tspan x="292" dy="12.3">ViewCount</tspan><tspan x="292" dy="12.3">Body</tspan><tspan x="292" dy="12.3">OwnerUserId</tspan><tspan x="292" dy="12.3">OwnerDisplayName</tspan><tspan x="292" dy="12.3">LastEditorUserId</tspan><tspan x="292" dy="12.3">LastEditorDisplayName</tspan><tspan x="292" dy="12.3">LastEditDate</tspan><tspan x="292" dy="12.3">LastActivityDate</tspan><tspan x="292" dy="12.3">Title</tspan><tspan x="292" dy="12.3">Tags</tspan><tspan x="292" dy="12.3">AnswerCount</tspan><tspan x="292" dy="12.3">CommentCount</tspan><tspan x="292" dy="12.3">FavoriteCount</tspan><tspan x="292" dy="12.3">ClosedDate</tspan><tspan x="292" dy="12.3">CommunityOwnedDate</tspan></text>
<text class="tt" y="1128.5"><tspan x="438">int</tspan><tspan x="438" dy="12.3">tinyint</tspan><tspan x="438" dy="12.3">int</tspan><tspan x="438" dy="12.3">int</tspan><tspan x="438" dy="12.3">datetime</tspan><tspan x="438" dy="12.3">datetime</tspan><tspan x="438" dy="12.3">int</tspan><tspan x="438" dy="12.3">int</tspan><tspan x="438" dy="12.3">nvarchar</tspan><tspan x="438" dy="12.3">int</tspan><tspan x="438" dy="12.3">nvarchar</tspan><tspan x="438" dy="12.3">int</tspan><tspan x="438" dy="12.3">nvarchar</tspan><tspan x="438" dy="12.3">datetime</tspan><tspan x="438" dy="12.3">datetime</tspan><tspan x="438" dy="12.3">nvarchar</tspan><tspan x="438" dy="12.3">nvarchar</tspan><tspan x="438" dy="12.3">int</tspan><tspan x="438" dy="12.3">int</tspan><tspan x="438" dy="12.3">int</tspan><tspan x="438" dy="12.3">datetime</tspan><tspan x="438" dy="12.3">datetime</tspan></text>
<use href="#key" x="282" y="1125.3"/><use href="#fk" x="441" y="1137.6"/><use href="#fk" x="441" y="1149.9"/><use href="#fk" x="441" y="1162.2"/><use href="#fk" x="441" y="1236"/><use href="#fk" x="441" y="1260.6"/>
</g>
<g id="t-pendingflags" class="pnk">
<rect class="tb" x="545" y="863" width="198" height="134" rx="6"/>
<path class="thb" d="M545.5,883V869q0-5.5 5.5-5.5h186q5.5,0 5.5,5.5v14z"/>
<text class="th" x="644" y="876.5">PendingFlags</text>
<text class="tn" y="894.5"><tspan x="562">Id</tspan><tspan x="562" dy="12.3">FlagTypeId</tspan><tspan x="562" dy="12.3">PostId</tspan><tspan x="562" dy="12.3">CreationDate</tspan><tspan x="562" dy="12.3">CloseReasonTypeId</tspan><tspan x="562" dy="12.3">CloseAsOffTopicReasonTypeId</tspan><tspan x="562" dy="12.3">DuplicateOfQuestionId</tspan><tspan x="562" dy="12.3">BelongsOnBaseHostAddress</tspan></text>
<text class="tt" y="894.5"><tspan x="734">int</tspan><tspan x="734" dy="12.3">tinyint</tspan><tspan x="734" dy="12.3">int</tspan><tspan x="734" dy="12.3">datetime</tspan><tspan x="734" dy="12.3">tinyint</tspan><tspan x="734" dy="12.3">smallint</tspan><tspan x="734" dy="12.3">int</tspan><tspan x="734" dy="12.3">nvarchar</tspan></text>
<use href="#key" x="552" y="891.3"/><use href="#fk" x="737" y="903.6"/><use href="#fk" x="737" y="915.9"/><use href="#fk" x="737" y="940.5"/><use href="#fk" x="737" y="952.8"/><use href="#fk" x="737" y="965.1"/>
</g>
<g id="t-flagtypes" class="pnk">
<rect class="tb" x="791" y="888" width="112" height="71" rx="6"/>
<path class="thb" d="M791.5,908V894q0-5.5 5.5-5.5h100q5.5,0 5.5,5.5v14z"/>
<text class="th" x="847" y="901.5">FlagTypes</text>
<text class="tn" y="919.5"><tspan x="808">Id</tspan><tspan x="808" dy="12.3">Name</tspan><tspan x="808" dy="12.3">Description</tspan></text>
<text class="tt" y="919.5"><tspan x="894">tinyint</tspan><tspan x="894" dy="12.3">nvarchar</tspan><tspan x="894" dy="12.3">nvarchar</tspan></text>
<use href="#key" x="798" y="916.3"/><use href="#chk" x="897" y="916.3"/>
</g>

<!-- dark group frames -->
<g id="frames">
<rect class="box" x="180" y="45" width="281" height="245"/>
<rect class="box" x="525.5" y="45" width="387.5" height="689"/>
<rect class="box" x="966.5" y="128.5" width="380" height="226.5"/>
<rect class="box" x="80" y="314" width="379" height="471"/>
<rect class="box" x="964" y="418" width="360" height="182"/>
<rect class="box" x="966.5" y="645" width="668" height="295"/>
<rect class="box" x="81" y="809" width="379" height="603"/>
<rect class="box" x="525" y="834" width="388" height="164"/>
</g>

<!-- review regions -->
<g id="regions">
<path d="M15.5,15 H1708 V387 H937.5 V792 H15.5 Z" fill="none" stroke="#1a9aa6" stroke-width="5"/>
<path d="M945.5,391.5 H1705.5 V1426.5 H15.5 V800.5 H945.5 Z" fill="none" stroke="#e8903a" stroke-width="5"/>
<text class="rev" x="944" y="101" fill="#1a9aa6" textLength="727" lengthAdjust="spacingAndGlyphs">EXTERNAL REVIEW</text>
<text class="rev" x="966" y="1381" fill="#e8903a" textLength="709" lengthAdjust="spacingAndGlyphs">INTERNAL REVIEW</text>
</g>

<!-- big group labels -->
<g id="labels">
<text class="big" x="201" y="167" textLength="206" lengthAdjust="spacingAndGlyphs">Users</text>
<text class="big" x="594" y="419" textLength="202" lengthAdjust="spacingAndGlyphs">Posts</text>
<text class="big" x="1058" y="244" textLength="169" lengthAdjust="spacingAndGlyphs">Tags</text>
<text class="big" x="127" y="427" textLength="286" lengthAdjust="spacingAndGlyphs">Votes &amp;</text>
<text class="big" x="88" y="530" textLength="363" lengthAdjust="spacingAndGlyphs">Feedback</text>
<text class="big" x="990" y="501" textLength="270" lengthAdjust="spacingAndGlyphs">History</text>
<text class="big" x="1073" y="849" textLength="500" lengthAdjust="spacingAndGlyphs">Review Tasks</text>
<text class="big" x="616" y="920" textLength="196" lengthAdjust="spacingAndGlyphs">Flags</text>
<text class="big" x="141" y="1043" textLength="257" lengthAdjust="spacingAndGlyphs">Closed</text>
</g>
</svg>
